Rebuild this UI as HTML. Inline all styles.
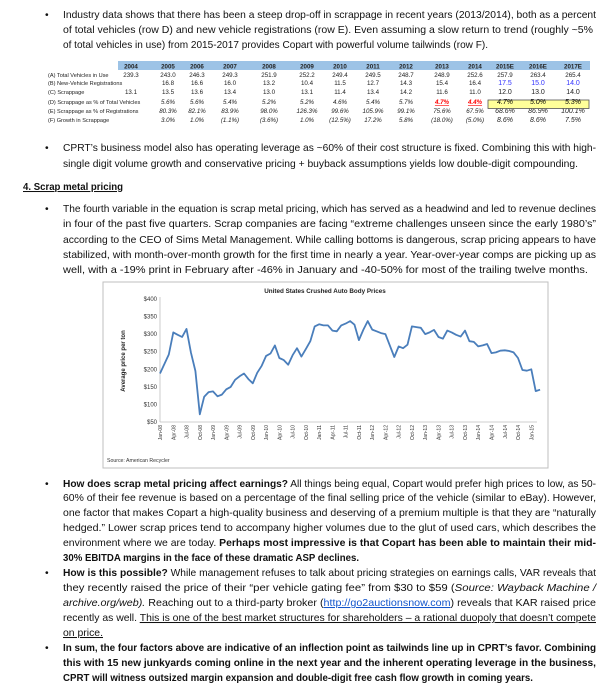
<!DOCTYPE html>
<html><head><meta charset="utf-8"><style>
html,body{margin:0;padding:0;background:#fff;}
svg{display:block;font-family:"Liberation Sans",sans-serif;}
</style></head><body>
<svg id="s" width="607" height="700" viewBox="0 0 607 700" xmlns="http://www.w3.org/2000/svg">
<g font-size="10.3" fill="#111">
<text x="45" y="18">•</text>
<text x="63" y="18" textLength="533" lengthAdjust="spacingAndGlyphs">Industry data shows that there has been a steep drop-off in scrappage in recent years (2013/2014), both as a percent</text>
<text x="63" y="33" textLength="530" lengthAdjust="spacingAndGlyphs">of total vehicles (row D) and new vehicle registrations (row E). Even assuming a slow return to trend (roughly ~5%</text>
<text x="63" y="48" textLength="425" lengthAdjust="spacingAndGlyphs">of total vehicles in use) from 2015-2017 provides Copart with powerful volume tailwinds (row F).</text>

<text x="45" y="151">•</text>
<text x="63" y="151" textLength="533" lengthAdjust="spacingAndGlyphs">CPRT’s business model also has operating leverage as ~60% of their cost structure is fixed. Combining this with high-</text>
<text x="63" y="167" textLength="515" lengthAdjust="spacingAndGlyphs">single digit volume growth and conservative pricing + buyback assumptions yields low double-digit compounding.</text>

<text x="23" y="190" font-weight="bold" text-decoration="underline" textLength="100" lengthAdjust="spacingAndGlyphs">4. Scrap metal pricing</text>

<text x="45" y="212">•</text>
<text x="63" y="212" textLength="533" lengthAdjust="spacingAndGlyphs">The fourth variable in the equation is scrap metal pricing, which has served as a headwind and led to revenue declines</text>
<text x="63" y="227" textLength="533" lengthAdjust="spacingAndGlyphs">in four of the past five quarters. Scrap companies are facing “extreme challenges unseen since the early 1980’s”</text>
<text x="63" y="243" textLength="533" lengthAdjust="spacingAndGlyphs">according to the CEO of Sims Metal Management. While calling bottoms is dangerous, scrap pricing appears to have</text>
<text x="63" y="258" textLength="533" lengthAdjust="spacingAndGlyphs">stabilized, with month-over-month growth for the first time in nearly a year. Year-over-year comps are picking up as</text>
<text x="63" y="273" textLength="525" lengthAdjust="spacingAndGlyphs">well, with a -19% print in February after -46% in January and -40-50% for most of the trailing twelve months.</text>

<text x="45" y="487">•</text>
<text x="63" y="487" textLength="533" lengthAdjust="spacingAndGlyphs"><tspan font-weight="bold">How does scrap metal pricing affect earnings?</tspan> All things being equal, Copart would prefer high prices to low, as 50-</text>
<text x="63" y="501" textLength="533" lengthAdjust="spacingAndGlyphs">60% of their fee revenue is based on a percentage of the final selling price of the vehicle (similar to eBay). However,</text>
<text x="63" y="516" textLength="533" lengthAdjust="spacingAndGlyphs">one factor that makes Copart a high-quality business and deserving of a premium multiple is that they are “naturally</text>
<text x="63" y="531" textLength="533" lengthAdjust="spacingAndGlyphs">hedged.” Lower scrap prices tend to accompany higher volumes due to the glut of used cars, which describes the</text>
<text x="63" y="546" textLength="533" lengthAdjust="spacingAndGlyphs">environment where we are today.  <tspan font-weight="bold">Perhaps most impressive is that Copart has been able to maintain their mid-</tspan></text>
<text x="63" y="561" font-weight="bold" textLength="296" lengthAdjust="spacingAndGlyphs">30% EBITDA margins in the face of these dramatic ASP declines.</text>

<text x="45" y="576">•</text>
<text x="63" y="576" textLength="533" lengthAdjust="spacingAndGlyphs"><tspan font-weight="bold">How is this possible?</tspan> While management refuses to talk about pricing strategies on earnings calls, VAR reveals that</text>
<text x="63" y="591" textLength="533" lengthAdjust="spacingAndGlyphs">they recently raised the price of their “per vehicle gating fee” from $30 to $59 (<tspan font-style="italic">Source: Wayback Machine /</tspan></text>
<text x="63" y="606" textLength="533" lengthAdjust="spacingAndGlyphs"><tspan font-style="italic">archive.org/web).</tspan> Reaching out to a third-party broker (<tspan fill="#1155cc" text-decoration="underline">http://go2auctionsnow.com</tspan>) reveals that KAR raised price</text>
<text x="63" y="621" textLength="533" lengthAdjust="spacingAndGlyphs">recently as well. <tspan text-decoration="underline">This is one of the best market structures for shareholders – a rational duopoly that doesn’t compete</tspan></text>
<text x="63" y="636" text-decoration="underline" textLength="40" lengthAdjust="spacingAndGlyphs">on price.</text>

<text x="45" y="651">•</text>
<text x="63" y="651" font-weight="bold" textLength="533" lengthAdjust="spacingAndGlyphs">In sum, the four factors above are indicative of an inflection point as tailwinds line up in CPRT’s favor. Combining</text>
<text x="63" y="666" font-weight="bold" textLength="533" lengthAdjust="spacingAndGlyphs">this with 15 new junkyards coming online in the next year and the inherent operating leverage in the business,</text>
<text x="63" y="681" font-weight="bold" textLength="470" lengthAdjust="spacingAndGlyphs">CPRT will witness outsized margin expansion and double-digit free cash flow growth in coming years.</text>
</g>

<!-- table -->
<rect x="118" y="61" width="472" height="9" fill="#9dc3e6"/>
<g id="tbl" font-size="6.2" fill="#222"></g>
<rect x="488" y="100" width="101" height="8.5" fill="#ffff99" stroke="#555" stroke-width="0.8"/>
<g id="tbl2" font-size="6.2"></g>

<!-- chart -->
<rect x="103" y="282" width="445" height="186" fill="#fff" stroke="#bfbfbf" stroke-width="1"/>
<text x="325" y="293" font-size="6.3" font-weight="bold" text-anchor="middle" fill="#222">United States Crushed Auto Body Prices</text>
<text x="107" y="462" font-size="5.2" fill="#333">Source: American Recycler</text>
<text transform="translate(125,361) rotate(-90)" font-size="6" font-weight="bold" text-anchor="middle" fill="#222">Average price per ton</text>
<line x1="160" y1="297" x2="160" y2="422" stroke="#bfbfbf" stroke-width="0.8"/>
<line x1="160" y1="422" x2="537" y2="422" stroke="#bfbfbf" stroke-width="0.8"/>
<g id="ax" font-size="6" fill="#333"></g>
<polyline id="ln" fill="none" stroke="#4a7ebb" stroke-width="1.8" stroke-linejoin="round"/>
</svg>
<script>
var NS="http://www.w3.org/2000/svg";
function t(g,x,y,s,o){var e=document.createElementNS(NS,"text");e.setAttribute("x",x);e.setAttribute("y",y);e.textContent=s;if(o)for(var k in o)e.setAttribute(k,o[k]);document.getElementById(g).appendChild(e);return e;}
var cols=[131,168,197,230,269,307,340,373,406,442,475,505,538,573];
var hd=["2004","2005","2006","2007","2008","2009","2010","2011","2012","2013","2014","2015E","2016E","2017E"];
hd.forEach(function(h,i){t("tbl",cols[i],68.5,h,{"text-anchor":"middle","font-weight":"bold"});});
var rows=[
["(A) Total Vehicles in Use",["239.3","243.0","246.3","249.3","251.9","252.2","249.4","249.5","248.7","248.9","252.6","257.9","263.4","265.4"],0],
["(B) New-Vehicle Registrations",["","16.8","16.6","16.0","13.2","10.4","11.5","12.7","14.3","15.4","16.4","17.5","15.0","14.0"],0],
["(C) Scrappage",["13.1","13.5","13.6","13.4","13.0","13.1","11.4","13.4","14.2","11.6","11.0","12.0","13.0","14.0"],0],
["(D) Scrappage as % of Total Vehicles",["","5.6%","5.6%","5.4%","5.2%","5.2%","4.6%","5.4%","5.7%","4.7%","4.4%","4.7%","5.0%","5.3%"],1],
["(E) Scrappage as % of Registrations",["","80.3%","82.1%","83.9%","98.0%","126.3%","99.6%","105.9%","99.1%","75.6%","67.5%","68.6%","86.9%","100.1%"],1],
["(F) Growth in Scrappage",["","3.0%","1.0%","(1.1%)","(3.6%)","1.0%","(12.5%)","17.2%","5.8%","(18.0%)","(5.0%)","8.6%","8.6%","7.5%"],1]];
var ry=[77,85,94,104,113,122];
rows.forEach(function(r,j){
 t("tbl",48,ry[j],r[0],{"font-size":"5.6"});
 r[1].forEach(function(v,i){if(!v)return;var o={"text-anchor":"middle"};
  if(r[2])o["font-style"]="italic";
  if(i>=11&&j>0){o["font-size"]="7";}
  if(j==1&&i>=11)o.fill="#3333ff";
  if(j==3&&(i==9||i==10)){o.fill="#ff0000";o["font-weight"]="bold";o["text-decoration"]="underline";}
  t(j==3&&i>=11?"tbl2":"tbl",cols[i],ry[j],v,o);});
});
var v=[188,215,242,305,298,292,315,248,195,72,122,135,137,123,128,143,150,170,180,188,172,160,190,210,238,245,268,232,226,213,240,260,236,258,280,322,328,325,325,310,308,325,330,337,327,283,312,337,313,308,303,300,268,235,265,260,270,322,320,318,300,305,312,292,287,310,305,298,293,310,280,278,265,268,272,246,248,253,254,252,248,232,198,196,200,138,142];
function Y(p){return 422-(p-50)*123/350;}
var pts=v.map(function(p,i){return (160+4.42*i).toFixed(1)+","+Y(p).toFixed(1);}).join(" ");
document.getElementById("ln").setAttribute("points",pts);
for(var p=50;p<=400;p+=50)t("ax",157,Y(p)+2,"$"+p,{"text-anchor":"end"});
var m=["Jan","Apr","Jul","Oct"];
for(var i=0;i<=86;i+=3){var yr=8+Math.floor(i/12);var lab=m[(i%12)/3]+"-"+(yr<10?"0"+yr:yr);
 var x=160+4.42*i;t("ax",0,0,lab,{"transform":"translate("+(x+2)+",425) rotate(-90)","text-anchor":"end","font-size":"5"});}
</script>
</body></html>
